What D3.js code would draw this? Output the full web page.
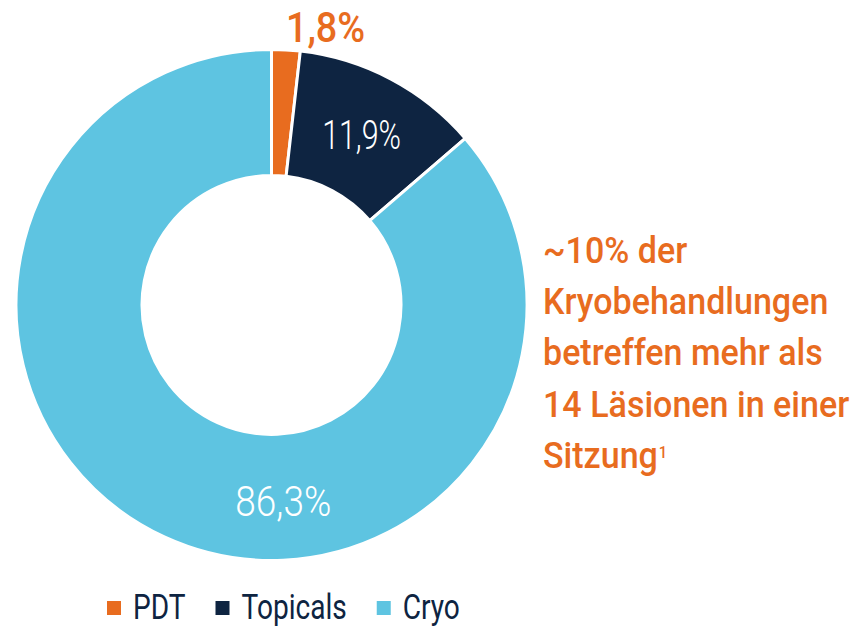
<!DOCTYPE html>
<html>
<head>
<meta charset="utf-8">
<script src="https://cdn.jsdelivr.net/npm/d3@7"></script>
<style>
  body { margin: 0; background: #fff; }
  svg { display: block; font-family: Roboto, "Noto Sans", sans-serif; }
</style>
</head>
<body>
<div id="chart"></div>
<script>
(function() {
  // data
  var categories = ['PDT', 'Topicals', 'Cryo']
  var shares = [1.8, 11.9, 86.3]
  var shareLabels = ['1,8%', '11,9%', '86,3%']
  var colors = ['#e86c1f', '#0e2441', '#5ec4e1']
  var noteLines = ['~10% der', 'Kryobehandlungen', 'betreffen mehr als', '14 Läsionen in einer', 'Sitzung']

  var width = 856
  var height = 628
  var cx = 271.5
  var cy = 305
  var outerR = 255.5
  var innerR = 129.5

  var svg = d3.select('#chart')
    .append('svg')
    .attr('width', width)
    .attr('height', height)

  var data = categories.map((c, i) => ({ name: c, value: shares[i], label: shareLabels[i], color: colors[i] }))

  var pie = d3.pie()
    .sort(null)
    .value(d => d.value)

  var arc = d3.arc()
    .innerRadius(innerR)
    .outerRadius(outerR)

  var arcs = pie(data)

  var g = svg.append('g')
    .attr('transform', `translate(${cx},${cy})`)

  g.selectAll('path')
    .data(arcs)
    .enter().append('path')
    .attr('d', arc)
    .attr('fill', d => d.data.color)
    .attr('stroke', '#fff')
    .attr('stroke-width', 3)

  // the original type is a condensed face, so squeeze ours horizontally
  function squeezed(parent, x, y, k) {
    return parent.append('g')
      .attr('transform', `translate(${x},${y}) scale(${k},1)`)
      .append('text')
  }

  arcs.forEach((d, i) => {
    var mid = (d.startAngle + d.endAngle) / 2
    if (i === 0) {
      // small slice, label outside above it
      squeezed(g, Math.sin(mid) * outerR, -Math.cos(mid) * outerR - 8, 0.9)
        .attr('text-anchor', 'start')
        .attr('fill', d.data.color)
        .attr('font-size', 42)
        .attr('font-weight', 500)
        .text(d.data.label)
    } else if (i === 1) {
      var c = arc.centroid(d)
      squeezed(g, c[0], c[1], 0.76)
        .attr('dy', '0.36em')
        .attr('text-anchor', 'middle')
        .attr('fill', '#fff')
        .attr('font-size', 40)
        .attr('font-weight', 300)
        .text(d.data.label)
    } else {
      // placed near the bottom of the ring
      var r = (innerR + outerR) / 2 + 4
      var a = Math.PI - 0.06
      squeezed(g, Math.sin(a) * r, -Math.cos(a) * r, 0.88)
        .attr('dy', '0.36em')
        .attr('text-anchor', 'middle')
        .attr('fill', '#fff')
        .attr('font-size', 42)
        .attr('font-weight', 300)
        .text(d.data.label)
    }
  })

  // annotation on the right
  var note = squeezed(svg, 543, 263, 0.92)
    .attr('fill', '#e86c1f')
    .attr('font-size', 37)
    .attr('font-weight', 500)

  noteLines.forEach((line, i) => {
    note.append('tspan')
      .attr('x', 0)
      .attr('dy', i === 0 ? 0 : 51.2)
      .text(line)
    if (i === noteLines.length - 1) {
      note.append('tspan')
        .attr('dx', 1)
        .attr('dy', -10)
        .attr('font-size', 16)
        .text('1')
    }
  })

  // legend
  var legend = svg.append('g')
    .attr('transform', 'translate(107,619)')

  var lx = 0
  var legendSqueeze = 0.78
  data.forEach(d => {
    var item = legend.append('g').attr('transform', `translate(${lx},0)`)
    item.append('rect')
      .attr('x', 0)
      .attr('y', -18)
      .attr('width', 14)
      .attr('height', 14)
      .attr('fill', d.color)
    var t = squeezed(item, 26, 0, legendSqueeze)
      .attr('fill', '#0e2441')
      .attr('font-size', 36)
      .text(d.name)
    lx += 26 + t.node().getComputedTextLength() * legendSqueeze + 30
  })
})()
</script>
</body>
</html>
